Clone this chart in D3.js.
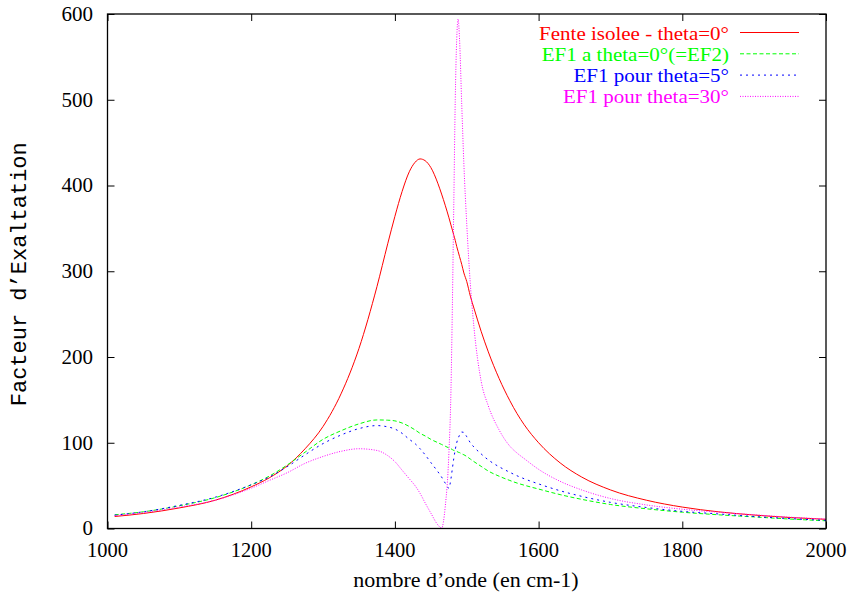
<!DOCTYPE html>
<html>
<head>
<meta charset="utf-8">
<script src="https://cdn.jsdelivr.net/npm/d3@7"></script>
<style>
  html, body { margin: 0; padding: 0; background: #fff; }
  svg { display: block; }
</style>
</head>
<body>
<svg id="chart" width="850" height="595"></svg>
<script>
// Wavenumbers (cm-1)
const wavenumber = [1010,1050,1100,1150,1200,1225,1250,1275,1300,1325,1350,1375,1390,1400,1410,1420,1428,1435,1442,1450,1460,1465,1470,1475,1478,1480,1482,1484,1486,1488,1490,1493,1496,1500,1505,1510,1520,1530,1545,1560,1570,1580,1600,1630,1660,1700,1750,1800,1850,1900,1950,2000];

// Fente isolee - theta=0°
const fenteIsolee = [14,17.5,24,33,48.6,59,73,93,119,157,210,282,332,364,393,416,427,431,429,421,402,390,377,363,354,348,342,336,329,323,317,308,298,288,271,257,230,206,175,149,134,121,100,76.5,60,45,33,25,19.5,15.7,12.8,10.7];
// EF1 a theta=0°(=EF2)
const ef1Theta0 = [16,19.5,26.5,36,51,61,74,89,104,114,122,126.6,126.3,125.5,123,119,115,111,108,104,100,98,96,94,93,92,91,90.5,90,89,88.5,87,86,84,81,78,72.5,67,61,56,53,50.5,46,39.5,34,28,23,19,16,13.5,11,9];
// EF1 pour theta=5°
const ef1Theta5 = [15.5,19.5,27,36.5,51,60,72,86,99,109,116.5,120,118.5,116,111,104,99,93,86,77,66,60,53,47,58,70,82,92,100,105,109,112.5,112,107,100,95,87,80,72,65.5,61.5,58,52,44,37.5,30.5,24.5,20,17,14,11.5,9.5];
// EF1 pour theta=30°
const ef1Theta30 = [15,18.5,25,33,47,56,65,76,84,90,93,91,85,78,68,58,50,41,30,18,4,0.5,25,85,160,260,380,500,570,594,570,495,425,355,285,235,172,143,115,96,88,81.5,69,55,45,35,27.5,22.5,19,16,13.2,11];

const seriesNames = ["Fente isolee - theta=0°", "EF1 a theta=0°(=EF2)", "EF1 pour theta=5°", "EF1 pour theta=30°"];
const seriesValues = [fenteIsolee, ef1Theta0, ef1Theta5, ef1Theta30];
const seriesColors = ["#ff0000", "#00ff00", "#0000ff", "#ff00ff"];
const seriesDash = [null, "4,2.5", "2,4", "1,1.5"];

const xTicks = [1000,1200,1400,1600,1800,2000];
const yTicks = [0,100,200,300,400,500,600];

const svg = d3.select("#chart");
const L = 107.5, R = 826, T = 14, B = 528.5;

const x = d3.scaleLinear().domain([1000, 2000]).range([L, R]);
const y = d3.scaleLinear().domain([0, 600]).range([B, T]);

const serif = "'Liberation Serif', 'Times New Roman', serif";
const mono = "'Liberation Mono', 'Courier New', monospace";

svg.append("defs").append("clipPath").attr("id", "clip")
  .append("rect").attr("x", L).attr("y", T - 2).attr("width", R - L).attr("height", B - T + 2);

// Axes (ticks inward, mirrored)
const tickLen = 7;
const axB = svg.append("g").attr("transform", `translate(0,${B})`)
  .call(d3.axisTop(x).tickValues(xTicks).tickSize(tickLen).tickFormat(""));
const axT = svg.append("g").attr("transform", `translate(0,${T})`)
  .call(d3.axisBottom(x).tickValues(xTicks).tickSize(tickLen).tickFormat(""));
const axL = svg.append("g").attr("transform", `translate(${L},0)`)
  .call(d3.axisRight(y).tickValues(yTicks).tickSize(tickLen).tickFormat(""));
const axR = svg.append("g").attr("transform", `translate(${R},0)`)
  .call(d3.axisLeft(y).tickValues(yTicks).tickSize(tickLen).tickFormat(""));
[axB, axT, axL, axR].forEach(g => {
  g.select(".domain").remove();
  g.selectAll(".tick line").attr("stroke", "#000").attr("stroke-width", 1);
});

// Tick labels
svg.append("g").selectAll("text").data(xTicks).join("text")
  .attr("x", d => x(d)).attr("y", 557)
  .attr("text-anchor", "middle")
  .style("font-family", serif).style("font-size", "20.5px")
  .text(d => d);
svg.append("g").selectAll("text").data(yTicks).join("text")
  .attr("x", 93).attr("y", d => y(d)).attr("dy", "0.33em")
  .attr("text-anchor", "end")
  .style("font-family", serif).style("font-size", "21px")
  .text(d => d);

// Axis titles
svg.append("text")
  .attr("x", 466).attr("y", 587)
  .attr("text-anchor", "middle")
  .style("font-family", serif).style("font-size", "22px")
  .text("nombre d’onde (en cm-1)");
svg.append("text")
  .attr("transform", `translate(26,${(T + B) / 2 + 3}) rotate(-90)`)
  .attr("text-anchor", "middle")
  .style("font-family", mono).style("font-size", "22px")
  .text("Facteur d’Exaltation");

// Lines
const line = d3.line()
  .x((d, i) => x(wavenumber[i]))
  .y(d => y(d))
  .curve(d3.curveMonotoneX);
const plot = svg.append("g").attr("clip-path", "url(#clip)");
seriesValues.forEach((vals, k) => {
  plot.append("path")
    .datum(vals)
    .attr("d", line)
    .attr("fill", "none")
    .attr("stroke", seriesColors[k])
    .attr("stroke-width", 1)
    .attr("stroke-dasharray", seriesDash[k]);
});

// Frame
svg.append("rect").attr("x", L).attr("y", T).attr("width", R - L).attr("height", B - T)
  .attr("fill", "none").attr("stroke", "#000").attr("stroke-width", 1.3);

// Legend: measured at 21px, drawn at 19px stretched to the same width
const legend = svg.append("g");
seriesNames.forEach((name, k) => {
  const by = 39.5 + k * 21.3;
  const t = legend.append("text")
    .attr("x", 729).attr("y", by)
    .attr("text-anchor", "end")
    .attr("fill", seriesColors[k])
    .style("font-family", serif).style("font-size", "21px")
    .text(name);
  const w = t.node().getComputedTextLength();
  t.style("font-size", "19px")
    .attr("textLength", w)
    .attr("lengthAdjust", "spacingAndGlyphs");
  legend.append("line")
    .attr("x1", 740).attr("x2", 799)
    .attr("y1", by - 7).attr("y2", by - 7)
    .attr("stroke", seriesColors[k])
    .attr("stroke-width", 1)
    .attr("stroke-dasharray", seriesDash[k]);
});
</script>
</body>
</html>
